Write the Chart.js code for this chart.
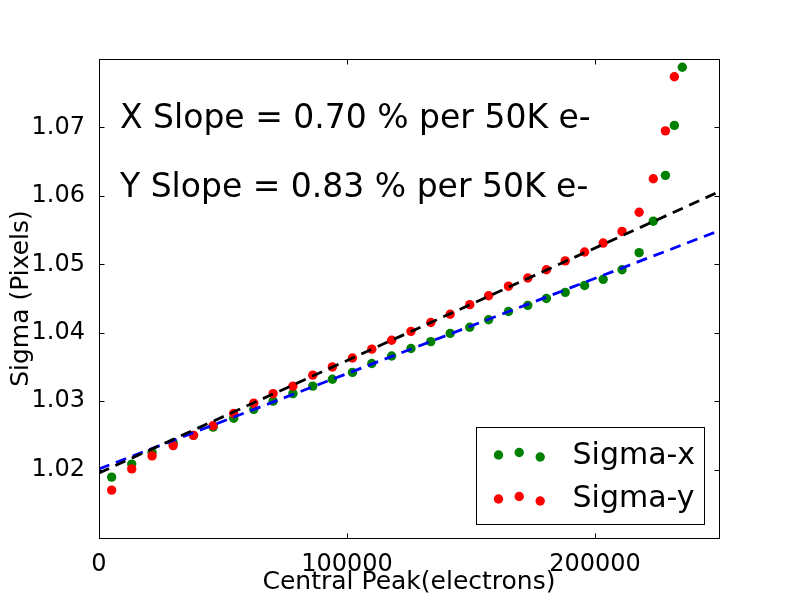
<!DOCTYPE html>
<html>
<head>
<meta charset="utf-8">
<title>Sigma vs Central Peak</title>
<script src="https://cdn.jsdelivr.net/npm/chart.js@4.4.1/dist/chart.umd.min.js"></script>
<style>
    html, body { margin: 0; padding: 0; background: #fff; }
    canvas { display: block; }
</style>
</head>
<body>
<canvas id="chartSigma" width="800" height="600"></canvas>
<script>
// ============================================
// Datos
// ============================================

const peakElectrons = [
    5100, 13200, 21400, 29900, 38100, 46000, 54300, 62400, 70200, 78200,
    86200, 94100, 102200, 110000, 118000, 125800, 133800, 141600, 149500, 157100,
    165100, 172900, 180400, 188000, 195800, 203300, 210900, 217800, 223500, 228400,
    232000, 235200
];
const sigmaX = [
    1.0189, 1.0208, 1.0225, 1.0239, 1.0250, 1.0262, 1.0275, 1.0288, 1.0300, 1.0311,
    1.0322, 1.0332, 1.0342, 1.0355, 1.0366, 1.0377, 1.0387, 1.0399, 1.0408, 1.0419,
    1.0431, 1.0440, 1.0450, 1.0459, 1.0469, 1.0478, 1.0492, 1.0517, 1.0563, 1.0630,
    1.0703, 1.0788
];
const sigmaY = [
    1.0170, 1.0201, 1.0220, 1.0235, 1.0250, 1.0264, 1.0282, 1.0297, 1.0311, 1.0322,
    1.0338, 1.0350, 1.0363, 1.0376, 1.0389, 1.0402, 1.0415, 1.0427, 1.0441, 1.0454,
    1.0468, 1.0480, 1.0492, 1.0505, 1.0518, 1.0531, 1.0548, 1.0576, 1.0625, 1.0695,
    1.0774
];
const fitRange = [0, 250000];
const fitSigmaX = [1.0201, 1.0549];
const fitSigmaY = [1.0195, 1.0606];
const xTicks = [0, 100000, 200000];
const yTicks = [1.02, 1.03, 1.04, 1.05, 1.06, 1.07];
const slopeNotes = ['X Slope = 0.70 % per 50K e-', 'Y Slope = 0.83 % per 50K e-'];
const legendLabels = ['Sigma-x', 'Sigma-y'];

const COLORS = {
    sigmaX: '#008000',
    sigmaY: '#ff0000',
    fitX: '#0000ff',
    fitY: '#000000',
    text: '#000000'
};
const FONT = '"DejaVu Sans", sans-serif';
const TICK = 5;

function toPoints(xs, ys) {
    return ys.map((y, i) => ({ x: xs[i], y: y }));
}

// ============================================
// Marco, ticks interiores, notas y leyenda
// ============================================

const framePlugin = {
    id: 'frame',
    afterDraw(chart) {
        const { ctx, chartArea: a, scales } = chart;
        const L = Math.round(a.left) + 0.5, R = Math.round(a.right) + 0.5;
        const T = Math.round(a.top) + 0.5, B = Math.round(a.bottom) + 0.5;
        ctx.save();
        ctx.strokeStyle = '#000';
        ctx.lineWidth = 1;
        ctx.strokeRect(L, T, R - L, B - T);

        ctx.beginPath();
        xTicks.forEach(v => {
            const px = Math.round(scales.x.getPixelForValue(v)) + 0.5;
            ctx.moveTo(px, B); ctx.lineTo(px, B - TICK);
            ctx.moveTo(px, T); ctx.lineTo(px, T + TICK);
        });
        yTicks.forEach(v => {
            const py = Math.round(scales.y.getPixelForValue(v)) + 0.5;
            ctx.moveTo(L, py); ctx.lineTo(L + TICK, py);
            ctx.moveTo(R, py); ctx.lineTo(R - TICK, py);
        });
        ctx.stroke();

        // notas de pendiente
        ctx.fillStyle = COLORS.text;
        ctx.font = '33px ' + FONT;
        ctx.textBaseline = 'alphabetic';
        ctx.textAlign = 'left';
        ctx.fillText(slopeNotes[0], a.left + 21, a.top + 69);
        ctx.fillText(slopeNotes[1], a.left + 21, a.top + 138);

        // leyenda con 3 puntos por serie
        const bw = 228, bh = 97;
        const bx = Math.round(a.right) - 15 - bw + 0.5;
        const by = Math.round(a.bottom) - 14 - bh + 0.5;
        ctx.strokeRect(bx, by, bw, bh);
        const rows = [
            { color: COLORS.sigmaX, label: legendLabels[0], cy: by + 27, base: by + 36 },
            { color: COLORS.sigmaY, label: legendLabels[1], cy: by + 71, base: by + 79.5 }
        ];
        const dxs = [22, 42.7, 63.7];
        const dys = [0.5, -2, 2.5];
        ctx.font = '30px ' + FONT;
        rows.forEach(r => {
            ctx.fillStyle = r.color;
            dxs.forEach((dx, i) => {
                ctx.beginPath();
                ctx.arc(bx + dx, r.cy + dys[i], 4.7, 0, Math.PI * 2);
                ctx.fill();
            });
            ctx.fillStyle = COLORS.text;
            ctx.fillText(r.label, bx + 96, r.base);
        });
        ctx.restore();
    }
};

// ============================================
// Grafico
// ============================================

new Chart(document.getElementById('chartSigma'), {
    type: 'scatter',
    data: {
        datasets: [
            {
                label: 'Fit Y',
                data: toPoints(fitRange, fitSigmaY),
                showLine: true,
                borderColor: COLORS.fitY,
                borderWidth: 2.8,
                borderDash: [11, 7],
                pointRadius: 0,
                order: 0
            },
            {
                label: 'Fit X',
                data: toPoints(fitRange, fitSigmaX),
                showLine: true,
                borderColor: COLORS.fitX,
                borderWidth: 2.8,
                borderDash: [11, 7],
                pointRadius: 0,
                order: 1
            },
            {
                label: legendLabels[1],
                data: toPoints(peakElectrons, sigmaY),
                backgroundColor: COLORS.sigmaY,
                pointRadius: 4.7,
                pointBorderWidth: 0,
                order: 2
            },
            {
                label: legendLabels[0],
                data: toPoints(peakElectrons, sigmaX),
                backgroundColor: COLORS.sigmaX,
                pointRadius: 4.7,
                pointBorderWidth: 0,
                order: 3
            }
        ]
    },
    options: {
        responsive: false,
        animation: false,
        events: [],
        layout: { padding: { left: 0, top: 59, right: 81, bottom: 0 } },
        plugins: {
            legend: { display: false },
            tooltip: { enabled: false }
        },
        scales: {
            x: {
                type: 'linear',
                min: 0,
                max: 250000,
                afterBuildTicks: s => { s.ticks = xTicks.map(v => ({ value: v })); },
                afterFit: s => { s.height = 62; },
                grid: { display: false },
                border: { display: false },
                ticks: {
                    color: COLORS.text,
                    font: { family: FONT, size: 24 },
                    padding: 4,
                    maxRotation: 0,
                    autoSkip: false,
                    callback: v => String(v)
                },
                title: {
                    display: true,
                    text: 'Central Peak(electrons)',
                    color: COLORS.text,
                    font: { family: FONT, size: 25 },
                    padding: { top: 0, bottom: 3 }
                }
            },
            y: {
                type: 'linear',
                min: 1.01,
                max: 1.08,
                afterBuildTicks: s => { s.ticks = yTicks.map(v => ({ value: v })); },
                afterFit: s => { s.width = 99; },
                grid: { display: false },
                border: { display: false },
                ticks: {
                    color: COLORS.text,
                    font: { family: FONT, size: 24 },
                    padding: 6,
                    autoSkip: false,
                    callback: v => v.toFixed(2)
                },
                title: {
                    display: true,
                    text: 'Sigma (Pixels)',
                    color: COLORS.text,
                    font: { family: FONT, size: 25 },
                    padding: { top: 6, bottom: 0 }
                }
            }
        }
    },
    plugins: [framePlugin]
});
</script>
</body>
</html>
